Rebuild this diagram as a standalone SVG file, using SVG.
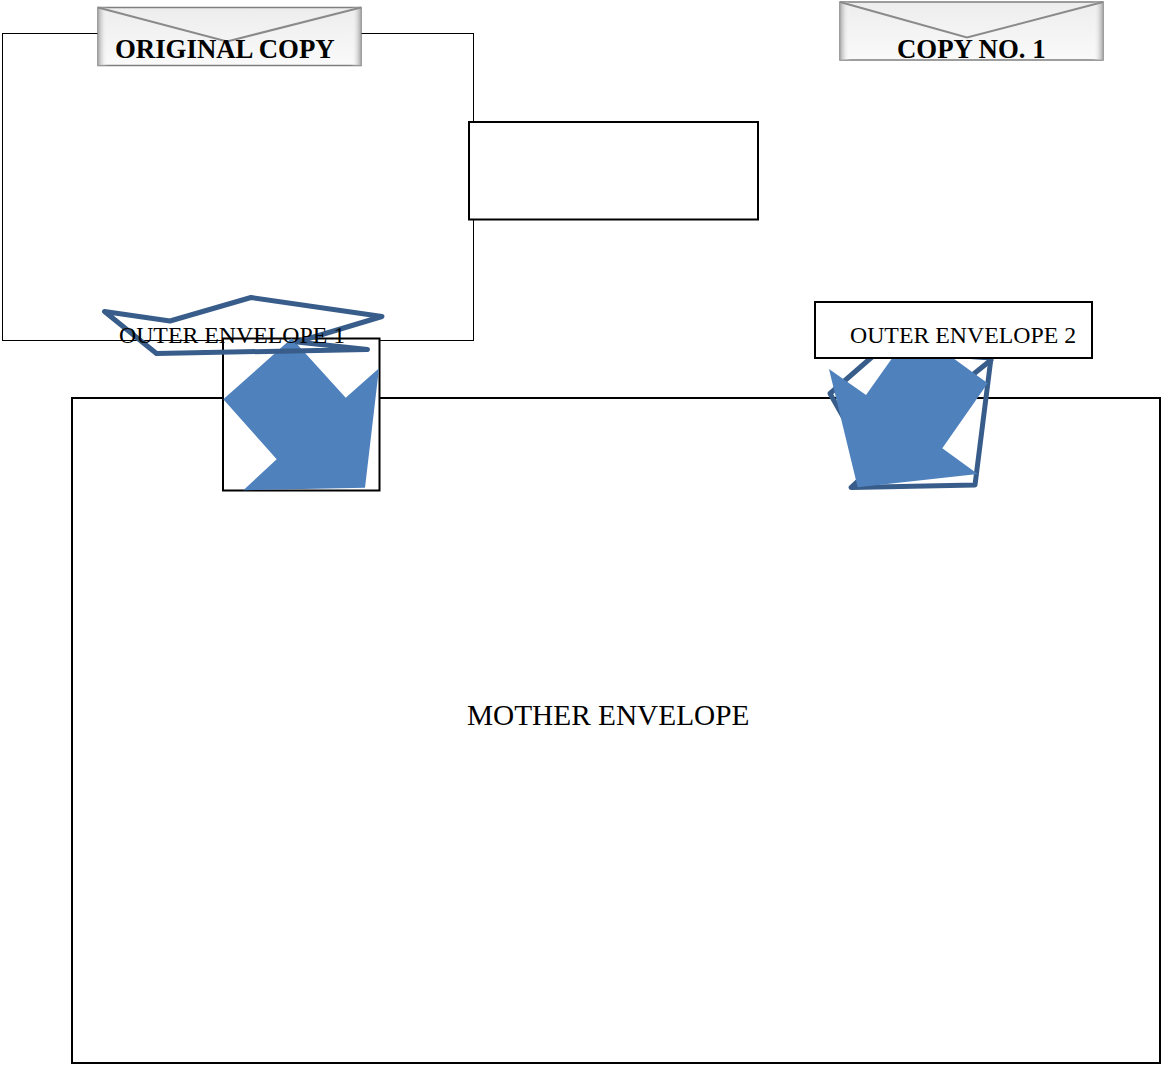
<svg xmlns="http://www.w3.org/2000/svg" width="1162" height="1068" viewBox="0 0 1162 1068">
<style>
.box{fill:#fff;stroke:#000;stroke-width:2}
.thin{fill:#fff;stroke:#000;stroke-width:1}
.env{fill:url(#envg);stroke:#7f7f7f;stroke-width:1.500}
.bevel{fill:url(#bevel)}
.flap{fill:none;stroke:#8a8a8a;stroke-width:2}
.blue{fill:#4f81bd}
.out{fill:none;stroke:#385d8a;stroke-width:5;stroke-linejoin:round;stroke-linecap:round}
text{font-family:"Liberation Serif","Times New Roman",serif;fill:#000}
.b{font-weight:700;font-size:26.8px}
.m{font-size:23.8px}
</style>
<defs>
<linearGradient id="envg" x1="0" y1="0" x2="0" y2="1">
<stop offset="0" stop-color="#ededed"/>
<stop offset="0.55" stop-color="#f4f4f4"/>
<stop offset="1" stop-color="#fafafa"/>
</linearGradient>
<linearGradient id="bevel" x1="0" y1="0" x2="1" y2="0">
<stop offset="0" stop-color="#a8a8a8"/>
<stop offset="0.025" stop-color="#e8e8e8" stop-opacity="0.4"/>
<stop offset="0.04" stop-color="#fff" stop-opacity="0"/>
<stop offset="0.96" stop-color="#fff" stop-opacity="0"/>
<stop offset="0.975" stop-color="#e8e8e8" stop-opacity="0.4"/>
<stop offset="1" stop-color="#a8a8a8"/>
</linearGradient>
</defs>
<g id="original-box"><rect class="thin" x="2.500" y="33.500" width="471" height="307"/></g>
<g id="mother-envelope">
<rect class="box" x="72" y="398" width="1088" height="665"/>
<text x="467" y="725" font-size="29.300">MOTHER ENVELOPE</text>
</g>
<g id="empty-box"><rect class="box" x="469" y="122" width="289" height="97.500"/></g>
<g id="original-copy">
<rect class="env" x="98" y="7.500" width="263" height="58"/>
<rect class="bevel" x="98" y="7.500" width="263" height="58"/>
<path class="flap" d="M98 7.500L227 41.500L361 7.500"/>
<text class="b" x="115" y="58">ORIGINAL COPY</text>
</g>
<g id="copy-no-1">
<rect class="env" x="840" y="2" width="263" height="58"/>
<rect class="bevel" x="840" y="2" width="263" height="58"/>
<path class="flap" d="M840 2L967 37.500L1103 2"/>
<text class="b" x="897" y="58">COPY NO. 1</text>
</g>
<g id="connectors">
<rect class="box" x="223" y="338.500" width="156.500" height="152"/>
<polygon class="blue" points="223.300,399.300 291.700,338.300 345.700,397.700 379,368.300 365,487.700 243.300,490.300 276.700,459.300"/>
<path class="out" d="M104.500,311.500L170,321L251,297.500L382,316.500L297,342L367.500,349.500L156.500,353.500Z"/>
<path class="out" d="M830,393.500L880,350L991,358L975,485L851,487.500L872,468Z"/>
<path class="out" d="M991,360L960,385"/>
<polygon class="blue" points="829,369 866,395 905,340 953,358 987.700,383.300 942.300,448.300 977.700,474 857.700,487.300"/>
</g>
<g id="outer-envelope-1">
<text class="m" x="119" y="343">OUTER ENVELOPE 1</text>
</g>
<g id="outer-envelope-2">
<rect class="box" x="815" y="302" width="277" height="56"/>
<text class="m" x="850" y="343">OUTER ENVELOPE 2</text>
</g>
</svg>
